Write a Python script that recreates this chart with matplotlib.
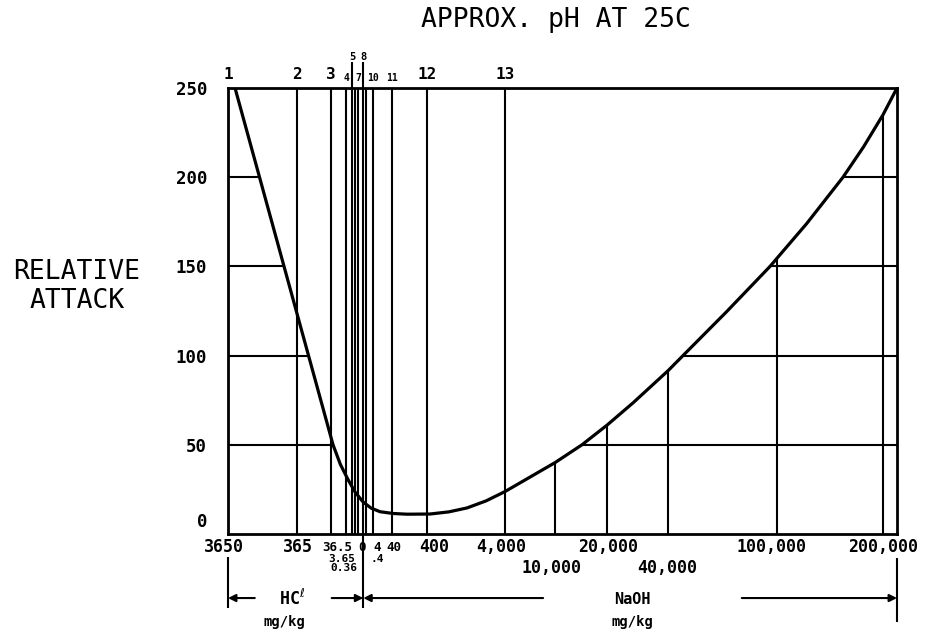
import numpy as np
import matplotlib.pyplot as plt
from matplotlib.transforms import ScaledTranslation

# x axis = the chart's own non-uniform concentration scale (0 = left edge, 100 = right edge)
ph_labels = ['1', '2', '3', '4', '5', '6', '7', '8', '9', '10', '11', '12', '13']
ph_pos = [0.0, 10.31, 15.40, 17.71, 18.54, 18.98, 19.48, 20.22, 20.63, 21.60, 24.47, 29.70, 41.41]
ph_major = ['1', '2', '3', '12', '13']
ph_minor = ['4', '7', '10', '11']
ph_raised = ['5', '8']

# relative attack curve
curve_pos = [1.05, 15.70, 16.8, 17.94, 19.0, 20.18, 21.4, 22.72, 24.66, 26.76, 30.19, 33.0,
             35.72, 38.6, 41.41, 48.88, 52.91, 56.65, 60.54, 65.77, 68.01, 74.5, 81.02,
             86.5, 91.93, 95.0, 97.91, 100.0]
curve_attack = [250, 50, 39, 30.5, 23.5, 18, 14.5, 12.5, 11.5, 11.1, 11.2, 12.4,
                14.6, 18.6, 23.8, 40, 50, 61, 73.5, 91.5, 100, 124.5, 150,
                174, 200, 217, 235, 250]

# NaOH lines that stop at the curve
naoh_line_pos = [48.88, 56.65, 65.77, 82.06, 97.91]

attack_ticks = [0, 50, 100, 150, 200, 250]
grid_levels = [50, 100, 150, 200]

# concentration labels under the axis (mg/kg)
conc_row1 = ['3650', '365', '400', '4,000', '20,000', '100,000', '200,000']
conc_row1_pos = [-0.6, 10.5, 30.8, 40.9, 56.8, 81.3, 97.9]
conc_row2 = ['10,000', '40,000']
conc_row2_pos = [48.4, 65.6]
small_row1 = ['36.5', '0', '4', '40']
small_row1_pos = [16.4, 20.0, 22.3, 24.8]
small_row2 = ['3.65', '.4']
small_row2_pos = [17.0, 22.3]
small_row3 = ['0.36']
small_row3_pos = [17.3]

hcl_range = [0.0, 20.22]
naoh_range = [20.22, 100.0]

mono = ['DejaVu Sans Mono', 'DejaVu Sans']
plt.rcParams['font.family'] = mono

fig = plt.figure(figsize=(9.26, 6.34), dpi=100)
ax = fig.add_axes([228 / 926, 100 / 634, 669 / 926, 446 / 634])
ax.set_xlim(0, 100)
ax.set_ylim(0, 250)
for s in ax.spines.values():
    s.set_linewidth(2)
    s.set_color('black')

cp = np.array(curve_pos)
ca = np.array(curve_attack)
imin = int(np.argmin(ca))
left_p, left_a = cp[:imin + 1], ca[:imin + 1]
right_p, right_a = cp[imin:], ca[imin:]

lw = 1.5
# full-height pH lines
ax.vlines(ph_pos, 0, 250, color='black', lw=lw)
# horizontal grid: left part up to the acid branch, right part from the alkaline branch
for v in grid_levels:
    xl = np.interp(v, left_a[::-1], left_p[::-1])
    xr = np.interp(v, right_a, right_p)
    ax.hlines(v, 0, xl, color='black', lw=lw)
    ax.hlines(v, xr, 100, color='black', lw=lw)
# NaOH verticals up to the curve
for p in naoh_line_pos:
    ax.vlines(p, 0, np.interp(p, cp, ca), color='black', lw=lw)

ax.plot(curve_pos, curve_attack, color='black', lw=2.3, solid_joinstyle='round')

# y ticks
ax.set_yticks(attack_ticks, [str(t) for t in attack_ticks])
ax.set_xticks([])
ax.tick_params(axis='y', length=0, pad=15, labelsize=12.5)
for lbl in ax.get_yticklabels():
    lbl.set_fontweight('bold')
    if lbl.get_text() == '0':
        lbl.set_transform(lbl.get_transform() + ScaledTranslation(0, 0.14, fig.dpi_scale_trans))

# pH labels on top
pos_of = dict(zip(ph_labels, ph_pos))
for t in ph_major:
    ax.text(pos_of[t], 257.3, t, ha='center', va='center', fontsize=11.5, fontweight='bold', clip_on=False)
for t in ph_minor:
    ax.text(pos_of[t], 255.8, t, ha='center', va='center', fontsize=7, fontweight='bold', clip_on=False)
for t in ph_raised:
    ax.vlines(pos_of[t], 250, 264.6, color='black', lw=lw, clip_on=False)
    ax.text(pos_of[t], 267.5, t, ha='center', va='center', fontsize=7.5, fontweight='bold', clip_on=False)

# concentration labels
for t, p in zip(conc_row1, conc_row1_pos):
    ax.text(p, -7.3, t, ha='center', va='center', fontsize=12, fontweight='bold', clip_on=False)
for t, p in zip(conc_row2, conc_row2_pos):
    ax.text(p, -19.1, t, ha='center', va='center', fontsize=12, fontweight='bold', clip_on=False)
for t, p in zip(small_row1, small_row1_pos):
    ax.text(p, -7.3, t, ha='center', va='center', fontsize=9, fontweight='bold', clip_on=False)
for t, p in zip(small_row2, small_row2_pos):
    ax.text(p, -13.8, t, ha='center', va='center', fontsize=8, fontweight='bold', clip_on=False)
for t, p in zip(small_row3, small_row3_pos):
    ax.text(p, -18.8, t, ha='center', va='center', fontsize=8, fontweight='bold', clip_on=False)

# HCl / NaOH range brackets
ax.vlines(hcl_range[0], -41.5, -12.9, color='black', lw=lw, clip_on=False)
ax.vlines(hcl_range[1], -41.5, 0, color='black', lw=lw, clip_on=False)
ax.vlines(naoh_range[1], -49.5, -13.5, color='black', lw=lw, clip_on=False)
aprops = dict(arrowstyle='-|>', color='black', lw=1.5, mutation_scale=11, shrinkA=0, shrinkB=0)
ya = -35.9
ax.annotate('', xy=(hcl_range[0], ya), xytext=(4.0, ya), arrowprops=aprops, annotation_clip=False)
ax.annotate('', xy=(hcl_range[1], ya), xytext=(15.5, ya), arrowprops=aprops, annotation_clip=False)
ax.annotate('', xy=(naoh_range[0], ya), xytext=(47.1, ya), arrowprops=aprops, annotation_clip=False)
ax.annotate('', xy=(naoh_range[1], ya), xytext=(76.8, ya), arrowprops=aprops, annotation_clip=False)
ax.text(9.6, -36.5, 'HC$^{\\ell}$', ha='center', va='center', fontsize=12, fontweight='bold', clip_on=False)
ax.text(8.5, -49.3, 'mg/kg', ha='center', va='center', fontsize=10, fontweight='bold', clip_on=False)
ax.text(60.5, -36.5, 'NaOH', ha='center', va='center', fontsize=11, fontweight='bold', clip_on=False)
ax.text(60.5, -49.3, 'mg/kg', ha='center', va='center', fontsize=10, fontweight='bold', clip_on=False)

fig.text(556 / 926, 1 - 20 / 634, 'APPROX. pH AT 25C', ha='center', va='center', fontsize=19)
fig.text(77 / 926, 1 - 286 / 634, 'RELATIVE\nATTACK', ha='center', va='center', fontsize=19,
         linespacing=1.15)

fig.savefig('out.png', dpi=100, facecolor='white')
